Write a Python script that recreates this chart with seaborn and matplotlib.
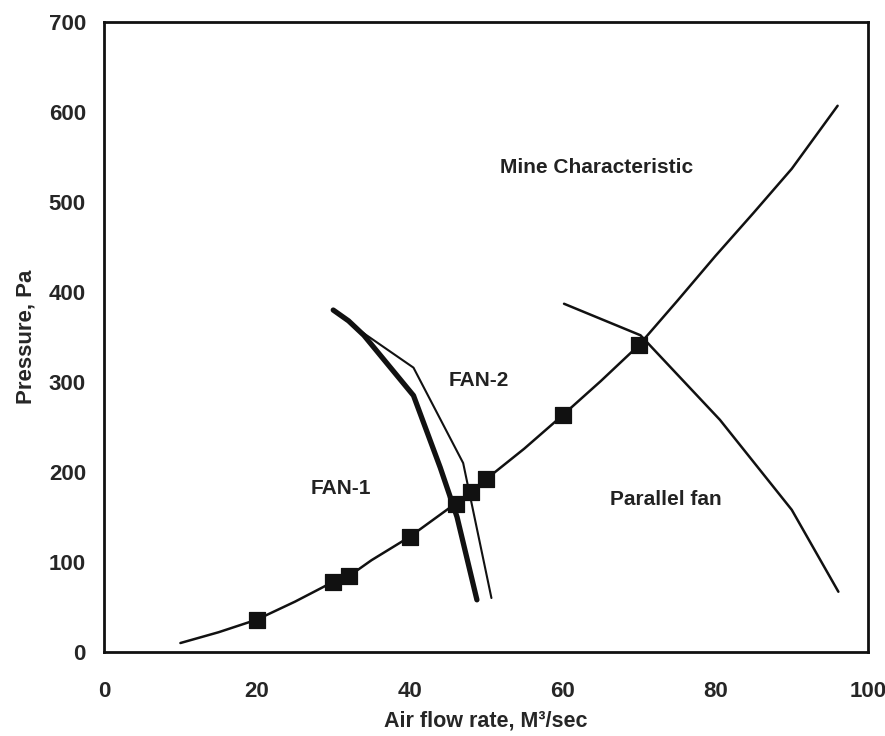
import matplotlib
matplotlib.use("Agg")
import matplotlib.pyplot as plt
import seaborn as sns
import pandas as pd

# Mine characteristic curve (line) and measured points (markers)
mine_x = [10, 15, 20, 25, 30, 32, 35, 40, 46, 48, 50, 55, 60, 65, 70, 75, 80, 85, 90, 96]
mine_y = [10, 22, 36, 56, 78, 84, 102, 128, 165, 178, 192, 226, 263, 301, 341, 390, 440, 488, 537, 607]
pts_x = [20, 30, 32, 40, 46, 48, 50, 60, 70]
pts_y = [36, 78, 84, 128, 165, 178, 192, 263, 341]

# Fan curves
fan1_x = [30, 32, 34, 40.5, 44, 46.2, 48.8]
fan1_y = [380, 368, 352, 285, 205, 150, 58]
fan2_x = [30, 33, 40.5, 47, 50.7]
fan2_y = [380, 360, 316, 210, 60]
par_x = [60.2, 70.2, 80.6, 90, 96.1]
par_y = [387, 352, 258, 158, 67]

labels = ["Mine Characteristic", "FAN-2", "FAN-1", "Parallel fan"]
label_x = [64.5, 49, 31, 73.5]
label_y = [538, 302, 182, 169]

sns.set_style("white")
plt.rcParams['font.family'] = ['Liberation Sans', 'DejaVu Sans']
plt.rcParams['font.weight'] = 'bold'

fig = plt.figure(figsize=(8.85, 7.36), dpi=100)
ax = fig.add_axes([0.1175, 0.1141, 0.8635, 0.8559])

mine = pd.DataFrame({"x": mine_x, "y": mine_y})
pts = pd.DataFrame({"x": pts_x, "y": pts_y})
f1 = pd.DataFrame({"x": fan1_x, "y": fan1_y})
f2 = pd.DataFrame({"x": fan2_x, "y": fan2_y})
pf = pd.DataFrame({"x": par_x, "y": par_y})

sns.lineplot(data=mine, x="x", y="y", ax=ax, color="#111111", lw=1.8, sort=False)
sns.lineplot(data=f2, x="x", y="y", ax=ax, color="#111111", lw=1.5, sort=False)
sns.lineplot(data=f1, x="x", y="y", ax=ax, color="#111111", lw=3.8, sort=False)
sns.lineplot(data=pf, x="x", y="y", ax=ax, color="#111111", lw=1.8, sort=False)
sns.scatterplot(data=pts, x="x", y="y", ax=ax, marker="s", s=120, color="#111111",
                edgecolor="#111111", zorder=5)

for t, x, y in zip(labels, label_x, label_y):
    ax.text(x, y, t, ha="center", va="center", fontsize=15, fontweight="bold", color="#222222")

ax.set_xlim(0, 100)
ax.set_ylim(0, 700)
ax.set_xticks([0, 20, 40, 60, 80, 100])
ax.set_yticks(range(0, 701, 100))
ax.tick_params(axis="x", direction="out", length=5, width=1, pad=16, labelsize=16)
ax.tick_params(axis="y", direction="inout", length=8, width=1, pad=9, labelsize=16)
for lab in ax.get_xticklabels() + ax.get_yticklabels():
    lab.set_fontweight("bold")
ax.set_xlabel("Air flow rate, M³/sec", fontsize=15.5, fontweight="bold", labelpad=6)
ax.set_ylabel("Pressure, Pa", fontsize=16, fontweight="bold", labelpad=9)
for s in ax.spines.values():
    s.set_color("#111111")
    s.set_linewidth(2)

fig.savefig("out.png", dpi=100)
